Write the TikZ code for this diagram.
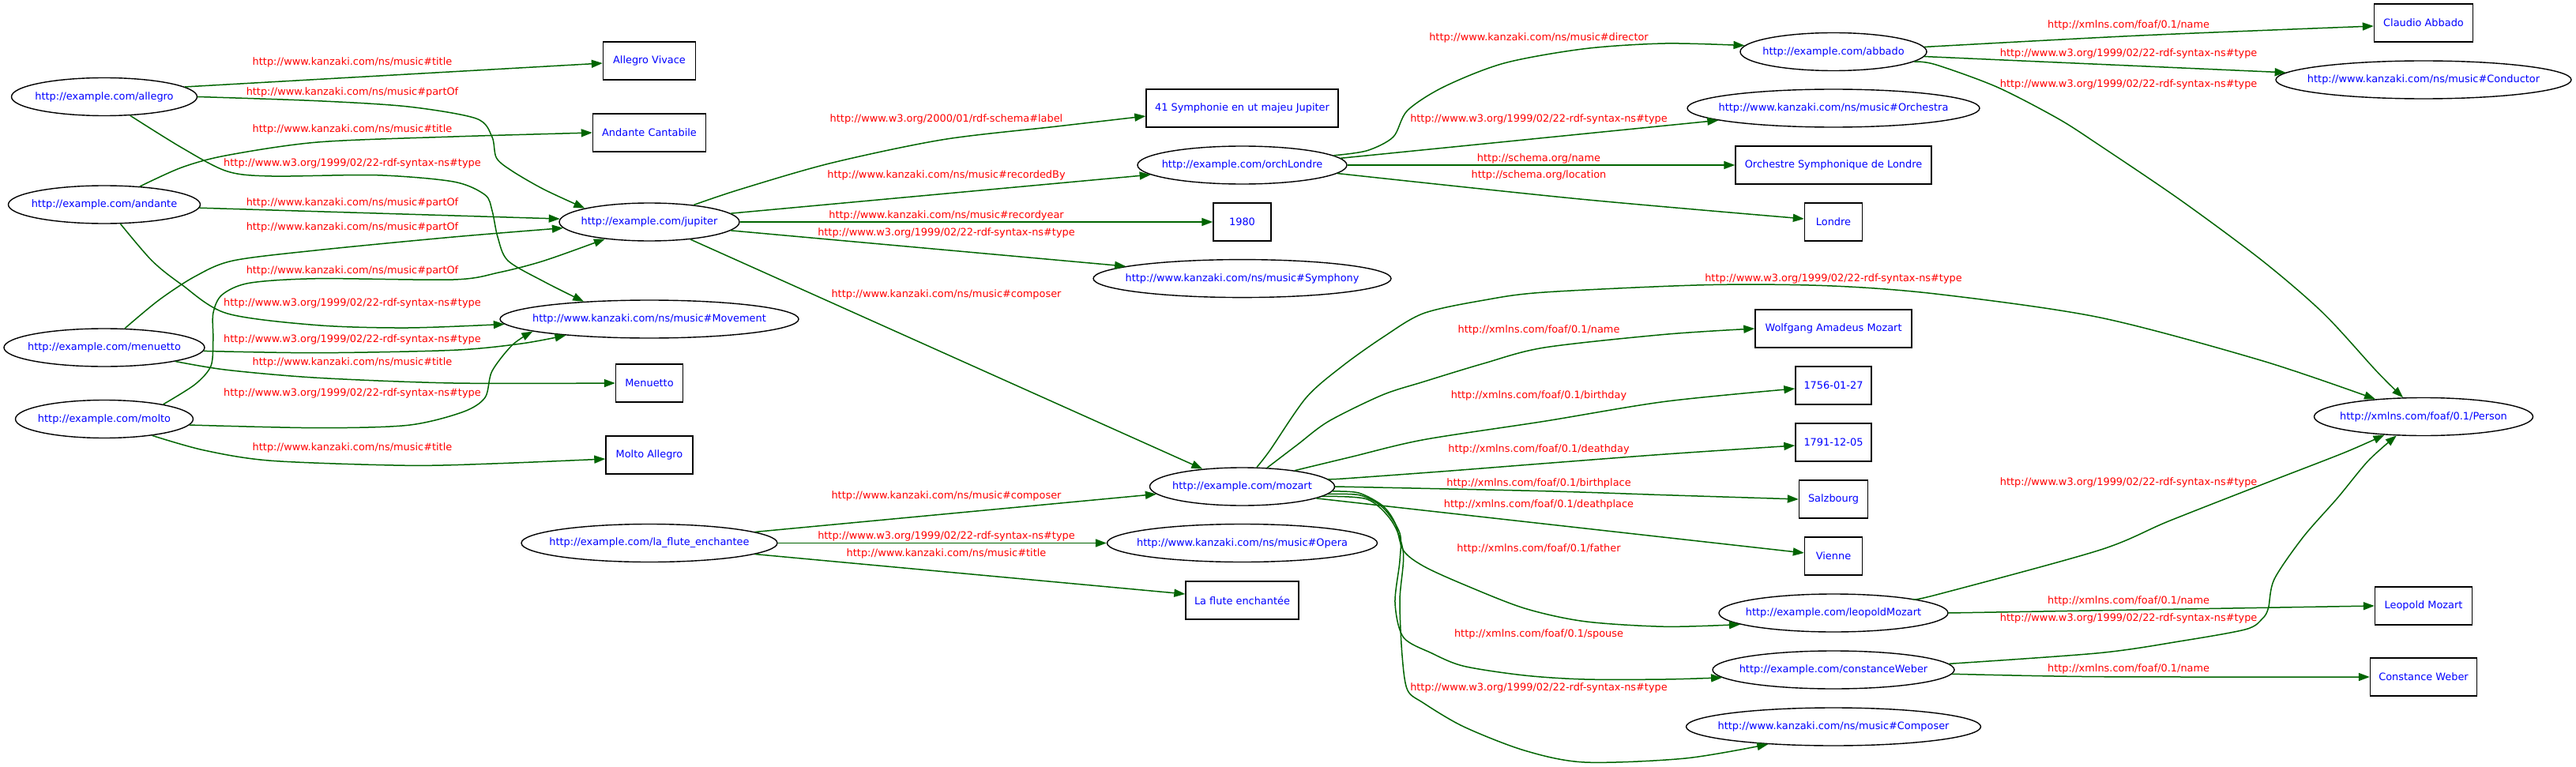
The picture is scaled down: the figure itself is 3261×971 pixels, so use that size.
\documentclass[tikz,border=0pt]{standalone}
\usepackage{fontspec}
\setmainfont{DejaVu Sans}
\usetikzlibrary{shapes.geometric,arrows.meta}
\definecolor{dg}{RGB}{0,100,0}
\definecolor{ublue}{RGB}{0,0,255}
\definecolor{lred}{RGB}{255,0,0}
\newcommand{\kzk}{http://www.kanzaki.com/ns/music\#}
\newcommand{\rdft}{http://www.w3.org/1999/02/22-rdf-syntax-ns\#type}
\newcommand{\foaf}{http://xmlns.com/foaf/0.1/}
\newcommand{\nt}[1]{\makebox[0pt]{#1}}
\begin{document}
\begin{tikzpicture}[x=1pt,y=-1pt,
  every node/.style={font=\fontsize{12.9pt}{15pt}\selectfont},
  ell/.style={draw=black,line width=1.4pt,ellipse,inner sep=0pt,minimum height=48pt,text=ublue},
  box/.style={draw=black,line width=1.4pt,rectangle,inner sep=0pt,minimum height=48pt,text=ublue},
  lab/.style={text=lred,inner sep=0pt},
  conn/.style={draw=dg,line width=1.5pt,-{Triangle[length=14pt,width=10pt]}},
  sm/.style={smooth,tension=0.5}]
\useasboundingbox (0,0) rectangle (3261,971);
% column 1
\node[ell,minimum width=235pt] (allegro) at (132,122.5) {\nt{http://example.com/allegro}};
\node[ell,minimum width=243pt] (andante) at (132,259) {\nt{http://example.com/andante}};
\node[ell,minimum width=254pt] (menuetto) at (132,440) {\nt{http://example.com/menuetto}};
\node[ell,minimum width=225pt] (molto) at (132,530.5) {\nt{http://example.com/molto}};
% column 2
\node[box,minimum width=117pt] (vivace) at (822,77) {\nt{Allegro Vivace}};
\node[box,minimum width=143pt] (cantabile) at (822,168) {\nt{Andante Cantabile}};
\node[ell,minimum width=228pt] (jupiter) at (822,281) {\nt{http://example.com/jupiter}};
\node[ell,minimum width=378pt] (movement) at (822,404) {\nt{http://www.kanzaki.com/ns/music\#Movement}};
\node[box,minimum width=85pt] (menbox) at (822,485) {\nt{Menuetto}};
\node[box,minimum width=110pt] (moltobox) at (822,576) {\nt{Molto Allegro}};
\node[ell,minimum width=324pt] (laflute) at (822,687.5) {\nt{http://example.com/la\_flute\_enchantee}};
% column 3
\node[box,minimum width=243pt] (sym41) at (1572.5,137) {\nt{41 Symphonie en ut majeu Jupiter}};
\node[ell,minimum width=265pt] (orch) at (1572.5,209) {\nt{http://example.com/orchLondre}};
\node[box,minimum width=73pt] (y1980) at (1572.5,281) {\nt{1980}};
\node[ell,minimum width=377pt] (symphony) at (1572.5,352.6) {\nt{http://www.kanzaki.com/ns/music\#Symphony}};
\node[ell,minimum width=234pt] (mozart) at (1572.5,616) {\nt{http://example.com/mozart}};
\node[ell,minimum width=342pt] (opera) at (1572.5,687.5) {\nt{http://www.kanzaki.com/ns/music\#Opera}};
\node[box,minimum width=143pt] (flutebox) at (1572.5,760) {\nt{La flute enchantée}};
% column 4
\node[ell,minimum width=236pt] (abbado) at (2321,65.5) {\nt{http://example.com/abbado}};
\node[ell,minimum width=370pt] (orchestra) at (2321,137) {\nt{http://www.kanzaki.com/ns/music\#Orchestra}};
\node[box,minimum width=248pt] (orchbox) at (2321,209) {\nt{Orchestre Symphonique de Londre}};
\node[box,minimum width=73pt] (londre) at (2321,281) {\nt{Londre}};
\node[box,minimum width=198pt] (wolfgang) at (2321,416) {\nt{Wolfgang Amadeus Mozart}};
\node[box,minimum width=96pt] (born) at (2321,488) {\nt{1756-01-27}};
\node[box,minimum width=96pt] (died) at (2321,560) {\nt{1791-12-05}};
\node[box,minimum width=87pt] (salzbourg) at (2321,632) {\nt{Salzbourg}};
\node[box,minimum width=73pt] (vienne) at (2321,704) {\nt{Vienne}};
\node[ell,minimum width=290pt] (leopold) at (2321,776) {\nt{http://example.com/leopoldMozart}};
\node[ell,minimum width=306pt] (constance) at (2321,848) {\nt{http://example.com/constanceWeber}};
\node[ell,minimum width=373pt] (composer) at (2321,920) {\nt{http://www.kanzaki.com/ns/music\#Composer}};
% column 5
\node[box,minimum width=125pt] (claudio) at (3068,29) {\nt{Claudio Abbado}};
\node[ell,minimum width=374pt] (conductor) at (3068,101) {\nt{http://www.kanzaki.com/ns/music\#Conductor}};
\node[ell,minimum width=277pt] (person) at (3068,527.5) {\nt{http://xmlns.com/foaf/0.1/Person}};
\node[box,minimum width=123pt] (leobox) at (3068,767) {\nt{Leopold Mozart}};
\node[box,minimum width=135pt] (conbox) at (3068,857) {\nt{Constance Weber}};
% labels gap 1
\node[lab] (l1) at (446,79) {\kzk title};
\node[lab] (l2) at (446,117) {\kzk partOf};
\node[lab] (l3) at (446,164) {\kzk title};
\node[lab] (l4) at (446,207) {\rdft};
\node[lab] (l5) at (446,257) {\kzk partOf};
\node[lab] (l6) at (446,288) {\kzk partOf};
\node[lab] (l7) at (446,342.7) {\kzk partOf};
\node[lab] (l8) at (446,384) {\rdft};
\node[lab] (l9) at (446,430) {\rdft};
\node[lab] (l10) at (446,459) {\kzk title};
\node[lab] (l11) at (446,498) {\rdft};
\node[lab] (l12) at (446,567) {\kzk title};
% labels gap 2
\node[lab] (l13) at (1198,151) {http://www.w3.org/2000/01/rdf-schema\#label};
\node[lab] (l14) at (1198,222) {\kzk recordedBy};
\node[lab] (l15) at (1198,273) {\kzk recordyear};
\node[lab] (l16) at (1198,295) {\rdft};
\node[lab] (l17) at (1198,372.7) {\kzk composer};
\node[lab] (l18) at (1198,628.3) {\kzk composer};
\node[lab] (l19) at (1198,679.3) {\rdft};
\node[lab] (l20) at (1198,700.7) {\kzk title};
% labels gap 3
\node[lab] (l21) at (1948,47.7) {\kzk director};
\node[lab] (l22) at (1948,150.7) {\rdft};
\node[lab] (l23) at (1948,200.7) {http://schema.org/name};
\node[lab] (l24) at (1948,222.3) {http://schema.org/location};
\node[lab] (l25) at (2321,352.7) {\rdft};
\node[lab] (l26) at (1948,418.3) {\foaf name};
\node[lab] (l27) at (1948,500.7) {\foaf birthday};
\node[lab] (l28) at (1948,568.7) {\foaf deathday};
\node[lab] (l29) at (1948,612.3) {\foaf birthplace};
\node[lab] (l30) at (1948,639.3) {\foaf deathplace};
\node[lab] (l31) at (1948,695.3) {\foaf father};
\node[lab] (l32) at (1948,803.3) {\foaf spouse};
\node[lab] (l33) at (1948,871.3) {\rdft};
% labels gap 4
\node[lab] (l34) at (2694.6,31.7) {\foaf name};
\node[lab] (l35) at (2694.6,67.7) {\rdft};
\node[lab] (l36) at (2694.6,106.7) {\rdft};
\node[lab] (l37) at (2694.6,610.7) {\rdft};
\node[lab] (l38) at (2694.6,760.7) {\foaf name};
\node[lab] (l39) at (2694.6,783.3) {\rdft};
\node[lab] (l40) at (2694.6,847.3) {\foaf name};
% edges gap 1
\draw[conn] (allegro.7) -- ([yshift=-3pt]vivace.west);
\draw[conn] plot[sm] coordinates {(allegro.east) (401.8,127.7) (516.6,135) (602.7,150) (622.8,173) (628.5,200) (648.6,216.7) (689,240) (jupiter.168)};
\draw[conn] plot[sm] coordinates {(allegro.-36) (229.6,186.7) (287,216.7) (344,223) (476.5,221.7) (574,230) (614,246.7) (623,266.7) (630,300) (643,330) (689,356.7) (movement.165)};
\draw[conn] plot[sm] coordinates {(andante.27) (230,212) (287,196.7) (402,180) (574,173) (cantabile.west)};
\draw[conn] (andante.-2) -- (jupiter.178);
\draw[conn] plot[sm] coordinates {(andante.-50) (192.3,330) (229.6,360) (287,396.7) (401.8,411.7) (516.6,415) (movement.182)};
\draw[conn] plot[sm] coordinates {(menuetto.43) (201,380) (246.8,350) (295,330) (402,316.7) (574,300) (jupiter.184)};
\draw[conn] plot[sm] coordinates {(molto.14) (246.8,486.7) (267,463.3) (269.8,430) (269.8,396.7) (281,373.3) (315.7,358.3) (401.8,352.7) (574,354) (631.4,345) (689,330) (jupiter.201)};
\draw[conn] plot[sm] coordinates {(menuetto.-2) (401.8,446.7) (574,443.3) (660,435) (movement.191)};
\draw[conn] plot[sm] coordinates {(molto.-4) (401.8,541.7) (516.6,538.3) (585.5,521.7) (614,503.3) (622.8,470) (648.6,436.7) (movement.186)};
\draw[conn] plot[sm] coordinates {(menuetto.-11) (287,468.3) (401.8,478.3) (574,485) (menbox.west)};
\draw[conn] plot[sm] coordinates {(molto.-19) (258.3,570) (344,583.3) (516.6,589.3) (631.4,586.7) ([yshift=-5pt]moltobox.west)};
% edges gap 2
\draw[conn] plot[sm] coordinates {(jupiter.21) (936,240) (1051,206.7) (1194,176.7) (1337.9,160) ([yshift=-10pt]sym41.west)};
\draw[conn] (jupiter.6) -- (orch.186);
\draw[conn] (jupiter.east) -- (y1980.west);
\draw[conn] (jupiter.-6) -- (symphony.174);
\draw[conn] (jupiter.-23) -- (mozart.156);
\draw[conn] (laflute.6) -- (mozart.185);
\draw[conn] (laflute.east) -- (opera.west);
\draw[conn] (laflute.-6) -- ([yshift=8pt]flutebox.west);
% edges gap 3
\draw[conn] plot[sm] coordinates {(orch.6) (1730.6,190.7) (1763.8,173.3) (1781.6,140) (1827.6,110) (1904,80) (2006,61.7) (2108,55) (abbado.176)};
\draw[conn] (orch.4) -- (orchestra.186);
\draw[conn] (orch.east) -- (orchbox.west);
\draw[conn] plot[sm] coordinates {(orch.-5) (2000,252) ([yshift=4pt]londre.west)};
\draw[conn] plot[sm] coordinates {(mozart.53) (1607.7,570) (1653.6,503.3) (1699.5,463.3) (1751,426.7) (1802,396.7) (1878.6,380) (1955,370) (2159,360.7) (2312,361.7) (2450,372) (2656.9,401.7) (2863.8,456.7) (person.160)};
\draw[conn] plot[sm] coordinates {(mozart.37) (1642,563.3) (1682,533.3) (1750,500) (1802,483.3) (1878.6,460) (1955,440) (2108,423.3) (wolfgang.west)};
\draw[conn] plot[sm] coordinates {(mozart.17) (1711,578.3) (1802,556.7) (1955,533.3) (2108,508.3) ([yshift=-4pt]born.west)};
\draw[conn] plot[sm] coordinates {(mozart.5) (1700,606) (1827.6,596.7) (1955,586.7) (2108,575) ([yshift=-4pt]died.west)};
\draw[conn] plot[sm] coordinates {(mozart.east) (1955,621.7) (2108,626.7) (salzbourg.west)};
\draw[conn] (mozart.-9) -- ([yshift=4pt]vienne.west);
\draw[conn] plot[sm] coordinates {(mozart.-3) (1720,624) (1750,640) (1766,662) (1776.5,696.7) (1802,716.7) (1853,740) (1929.6,770) (2006,786.7) (2108,793.3) (leopold.187)};
\draw[conn] plot[sm] coordinates {(mozart.-5) (1722,627) (1751,643) (1772,675) (1772,710) (1766,763.3) (1776.5,806.7) (1812,826.7) (1853,843.3) (1929.6,855) (2006,860) (2108,860) (constance.184)};
\draw[conn] plot[sm] coordinates {(mozart.-7) (1730.6,632) (1762,660) (1776.5,700) (1772,760) (1775,830) (1781.6,873.3) (1802,890) (1853,920) (1929.6,950) (2006,965) (2133.7,960) (composer.195)};
% edges gap 4
\draw[conn] plot[sm] coordinates {(abbado.3) (2708.6,45) ([yshift=-4pt]claudio.west)};
\draw[conn] (abbado.-3) -- (conductor.177);
\draw[conn] plot[sm] coordinates {(abbado.-7) (2450,81.7) (2527.6,110) (2605,150) (2656.9,183.3) (2760.3,253.3) (2863.8,330) (2941.3,396.7) (3008.6,470) (person.137)};
\draw[conn] (leopold.east) -- (leobox.west);
\draw[conn] plot[sm] coordinates {(leopold.10) (2450,753.3) (2656.9,696.7) (2744.8,660) (2863.8,613.3) (2967,573.3) (person.205)};
\draw[conn] plot[sm] coordinates {(constance.-2) (2657,856.7) (conbox.west)};
\draw[conn] plot[sm] coordinates {(constance.3) (2657,826.7) (2760.3,811.7) (2843,796.7) (2863.8,783.3) (2871.5,770) (2879,733.3) (2915.5,680) (2959.4,630) (2998,583.3) (person.215)};
\end{tikzpicture}
\end{document}
